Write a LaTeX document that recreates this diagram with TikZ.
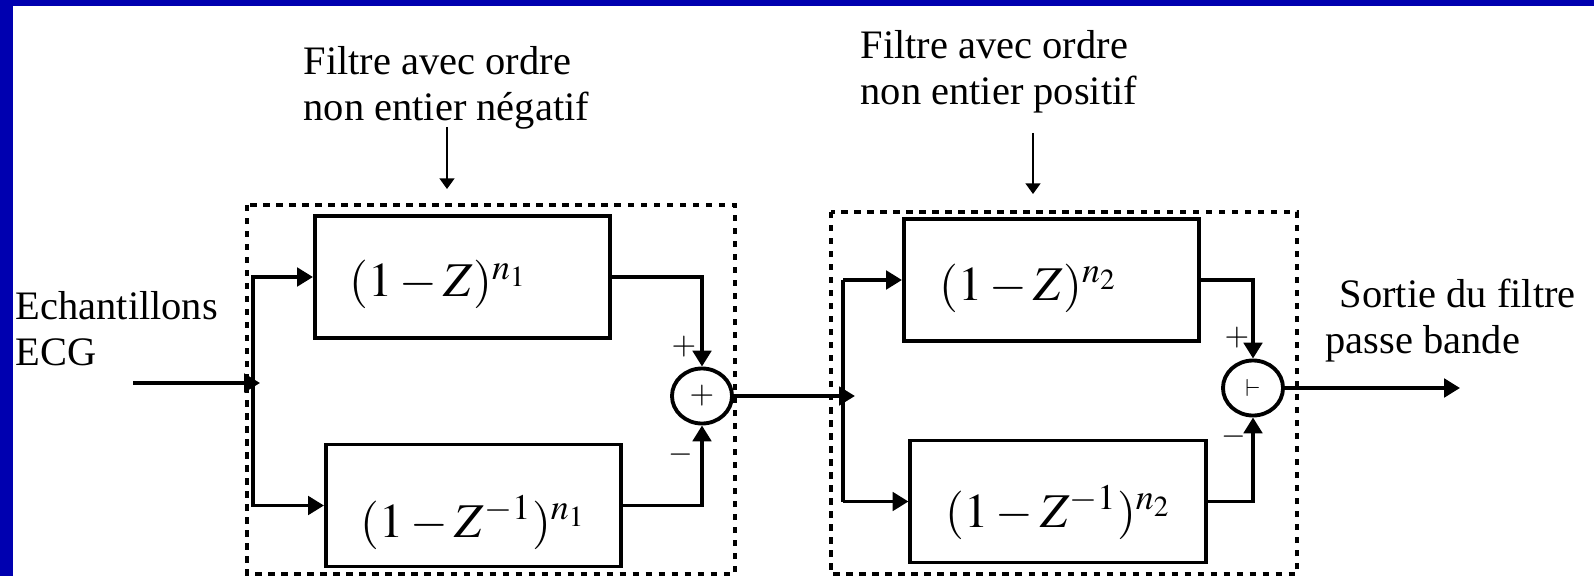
\documentclass[tikz,border=0pt]{standalone}
\usepackage{mathptmx}
\usepackage[no-math]{fontspec}
\setmainfont{Liberation Serif}
\usetikzlibrary{positioning,arrows.meta,shapes.geometric}
\definecolor{slideblue}{RGB}{0,0,176}

\begin{document}
\begin{tikzpicture}[
x=0.01cm,y=-0.01cm,
box/.style={
rectangle,draw,line width=1.1pt,
minimum width=2.95cm,
minimum height=1.22cm
},
sum/.style={ellipse,draw,line width=1.1pt,minimum width=0.6cm,minimum height=0.55cm,inner sep=0pt},
group/.style={draw,line width=1pt,dash pattern=on 1.8pt off 1.9pt},
wire/.style={line width=1.1pt},
arrow/.style={wire,-{Triangle[length=4.5pt,width=5.2pt]}},
hint/.style={line width=0.5pt,-{Triangle[length=3pt,width=4.2pt]}},
txt/.style={font=\fontsize{11.5}{13.1}\selectfont,align=left,inner sep=0pt,anchor=north west},
expr/.style={font=\fontsize{13.8}{16}\selectfont,inner sep=0pt,anchor=base west},
sign/.style={font=\fontsize{9}{10}\selectfont,inner sep=0pt}
]

% BACKGROUND
\fill[white] (0,0) rectangle (1594,576);
\fill[slideblue] (0,0) rectangle (13,576);
\fill[slideblue] (0,0) rectangle (1594,6);
\useasboundingbox (0,0) rectangle (1594,576);

% GROUPS
\draw[group] (247,205) rectangle (735,574);
\draw[group] (831,212) rectangle (1297,574);

\node[txt] (neg) at (303,46) {Filtre avec ordre\\non entier négatif};
\node[txt] (pos) at (860,30) {Filtre avec ordre\\non entier positif};
\coordinate (negtop) at (447,127);
\coordinate (negbot) at (447,189);
\coordinate (postop) at (1033,133);
\coordinate (posbot) at (1033,194);

% INPUT
\node[txt] (ech) at (15,291) {Echantillons\\ECG};
\coordinate (in) at (133,383);
\coordinate (b1) at (253,383);

% FIRST FILTER
\node[box] (fa) at (462.5,277) {};
\node[box] (fb) at (473.5,505.5) {};
\node[expr] (ta) at (349,297) {$(1-Z)^{n_1}$};
\node[expr] (tb) at (360,537) {$(1-Z^{-1})^{n_1}$};
\node[sum] (s1) at (702,396) {};
\node[sign] (s1c) at (s1) {$+$};
\node[sign] (s1p) at (684,347) {$+$};
\node[sign] (s1m) at (681,455) {$-$};
\coordinate (b2) at (843,394);

% SECOND FILTER
\node[box] (fc) at (1051.5,280) {};
\node[box] (fd) at (1058,501.5) {};
\node[expr] (tc) at (939,300) {$(1-Z)^{n_2}$};
\node[expr] (td) at (945,527) {$(1-Z^{-1})^{n_2}$};
\node[sum] (s2) at (1253,388) {};
\node[sign,font=\fontsize{7}{8}\selectfont] (s2c) at (s2) {$\vdash$};
\node[sign] (s2p) at (1237,338) {$+$};
\node[sign] (s2m) at (1234,437) {$-$};

% OUTPUT
\node[txt] (out) at (1325,278) {\hspace*{4pt}Sortie du filtre\\passe bande};
\coordinate (end) at (1460,388);

% ARROWS
\draw[hint] (negtop) -- (negbot);
\draw[hint] (postop) -- (posbot);
\draw[arrow,shorten >=-2pt] (in) -- (b1);
\draw[arrow] (b1) |- (fa.west);
\draw[arrow] (b1) |- (fb.west);
\draw[arrow] (fa.east) -| (s1.north);
\draw[arrow] (fb.east) -| (s1.south);
\draw[arrow,shorten >=-3.4pt] (s1.east) -- (s1.east -| b2);
\draw[wire] (b2 |- fc.west) -- (b2 |- fd.west);
\draw[arrow] (b2 |- fc.west) -- (fc.west);
\draw[arrow] (b2 |- fd.west) -- (fd.west);
\draw[arrow] (fc.east) -| (s2.north);
\draw[arrow] (fd.east) -| (s2.south);
\draw[arrow] (s2.east) -- (end);

\end{tikzpicture}
\end{document}
